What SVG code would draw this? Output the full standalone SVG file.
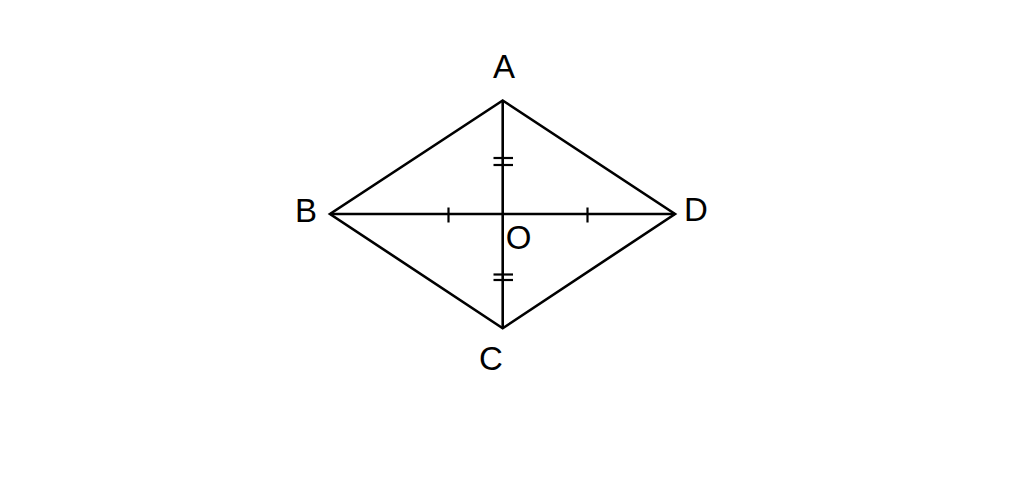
<svg xmlns="http://www.w3.org/2000/svg" width="1024" height="484" viewBox="0 0 1024 484">
<style>
.ln{stroke:#000;stroke-width:2.6;fill:none;stroke-linejoin:miter;stroke-linecap:butt}
.tk{stroke:#000;stroke-width:2.2;fill:none}
.lb{font-family:"Liberation Sans",Arial,sans-serif;font-size:33px;fill:#000;text-anchor:middle}
</style>
<rect width="1024" height="484" fill="#fff"/>
<g id="connectors">
<polygon class="ln" points="502.7,100.5 675,214 502.7,328.3 330,214"/>
<line class="ln" x1="330" y1="214" x2="675" y2="214"/>
<line class="ln" x1="502.7" y1="100.5" x2="502.7" y2="328.3"/>
<line class="tk" x1="448.5" y1="207.5" x2="448.5" y2="222.5"/>
<line class="tk" x1="587.5" y1="207.5" x2="587.5" y2="222.5"/>
<line class="tk" x1="493.5" y1="158" x2="513" y2="158"/>
<line class="tk" x1="493.5" y1="165" x2="513" y2="165"/>
<line class="tk" x1="493.5" y1="274.5" x2="513" y2="274.5"/>
<line class="tk" x1="493.5" y1="280" x2="513" y2="280"/>
</g>
<g id="A"><text class="lb" x="504" y="77.5">A</text></g>
<g id="B"><text class="lb" x="306" y="222">B</text></g>
<g id="C"><text class="lb" x="491" y="369.5">C</text></g>
<g id="D"><text class="lb" x="696" y="220.5">D</text></g>
<g id="O"><text class="lb" x="518.5" y="248.5">O</text></g>
</svg>
